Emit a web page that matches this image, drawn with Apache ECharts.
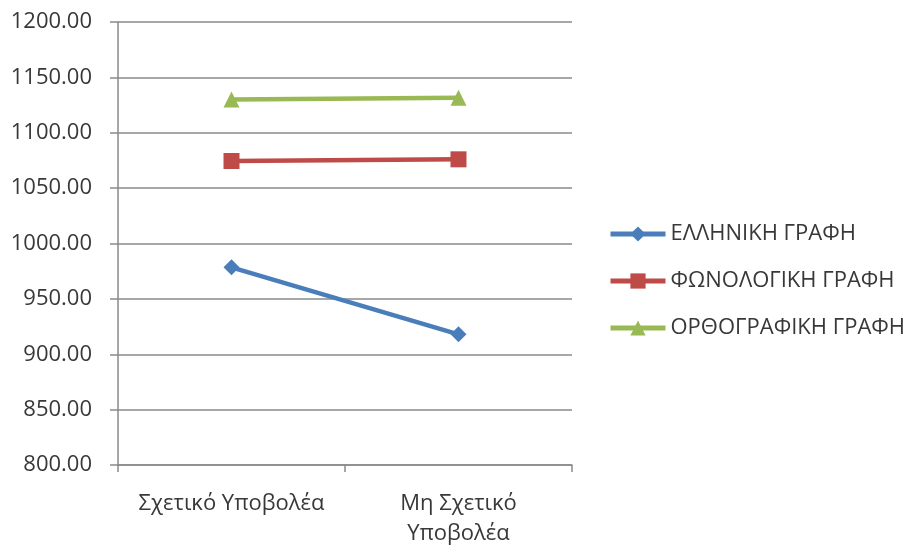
<!DOCTYPE html>
<html>
<head>
<meta charset="utf-8">
<script src="https://cdn.jsdelivr.net/npm/echarts@6/dist/echarts.min.js"></script>
<style>
  html, body { margin: 0; padding: 0; background: #ffffff; }
  #chart { width: 918px; height: 549px; }
</style>
</head>
<body>
<div id="chart"></div>
<script>
// Categories on the x axis (second one wraps onto two lines)
const categories = ['Σχετικό Υποβολέα', 'Μη Σχετικό\nΥποβολέα'];

// Series values
const seriesNames = ['ΕΛΛΗΝΙΚΗ ΓΡΑΦΗ', 'ΦΩΝΟΛΟΓΙΚΗ ΓΡΑΦΗ', 'ΟΡΘΟΓΡΑΦΙΚΗ ΓΡΑΦΗ'];
const greekScript = [978.5, 918.0];
const phonologicalScript = [1074.5, 1076.0];
const orthographicScript = [1130.0, 1131.5];

// Y axis range
const yMin = 800;
const yMax = 1200;
const yStep = 50;

const FONT = '"Open Sans", "Noto Sans", sans-serif';
const TEXT = '#383838';
const GRID = '#8a8a8a';

const chart = echarts.init(document.getElementById('chart'));

function lineSeries(name, data, color, symbol) {
  return {
    name: name,
    type: 'line',
    data: data,
    symbol: symbol,
    symbolSize: 16,
    showSymbol: true,
    lineStyle: { color: color, width: 4.5 },
    itemStyle: { color: color },
    emphasis: { disabled: true },
    animation: false
  };
}

chart.setOption({
  animation: false,
  backgroundColor: '#ffffff',
  grid: { left: 118, right: 346, top: 22, bottom: 79, containLabel: false },
  xAxis: {
    type: 'category',
    data: categories,
    boundaryGap: true,
    axisLine: { show: true, lineStyle: { color: GRID, width: 1.5 } },
    axisTick: { show: true, length: 7, alignWithLabel: false, lineStyle: { color: GRID, width: 1.5 } },
    axisLabel: {
      color: TEXT, fontFamily: FONT, fontSize: 22, margin: 24, lineHeight: 30,
      interval: 0
    },
    splitLine: { show: false }
  },
  yAxis: {
    type: 'value',
    min: yMin,
    max: yMax,
    interval: yStep,
    axisLine: { show: true, lineStyle: { color: GRID, width: 1.5 } },
    axisTick: { show: true, length: 8, lineStyle: { color: GRID, width: 1.5 } },
    axisLabel: {
      color: TEXT, fontFamily: FONT, fontSize: 22, margin: 26,
      formatter: v => v.toFixed(2)
    },
    splitLine: { show: true, lineStyle: { color: GRID, width: 1.5 } }
  },
  legend: {
    orient: 'vertical',
    left: 603,
    top: 217,
    padding: 5,
    itemWidth: 55,
    itemHeight: 19,
    itemGap: 23,
    lineStyle: { width: 5 },
    textStyle: { color: TEXT, fontFamily: FONT, fontSize: 22, lineHeight: 24 },
    data: seriesNames
  },
  series: [
    lineSeries(seriesNames[0], greekScript, '#4a7ebb', 'diamond'),
    lineSeries(seriesNames[1], phonologicalScript, '#be4b48', 'rect'),
    lineSeries(seriesNames[2], orthographicScript, '#98b954', 'triangle')
  ]
});
</script>
</body>
</html>
